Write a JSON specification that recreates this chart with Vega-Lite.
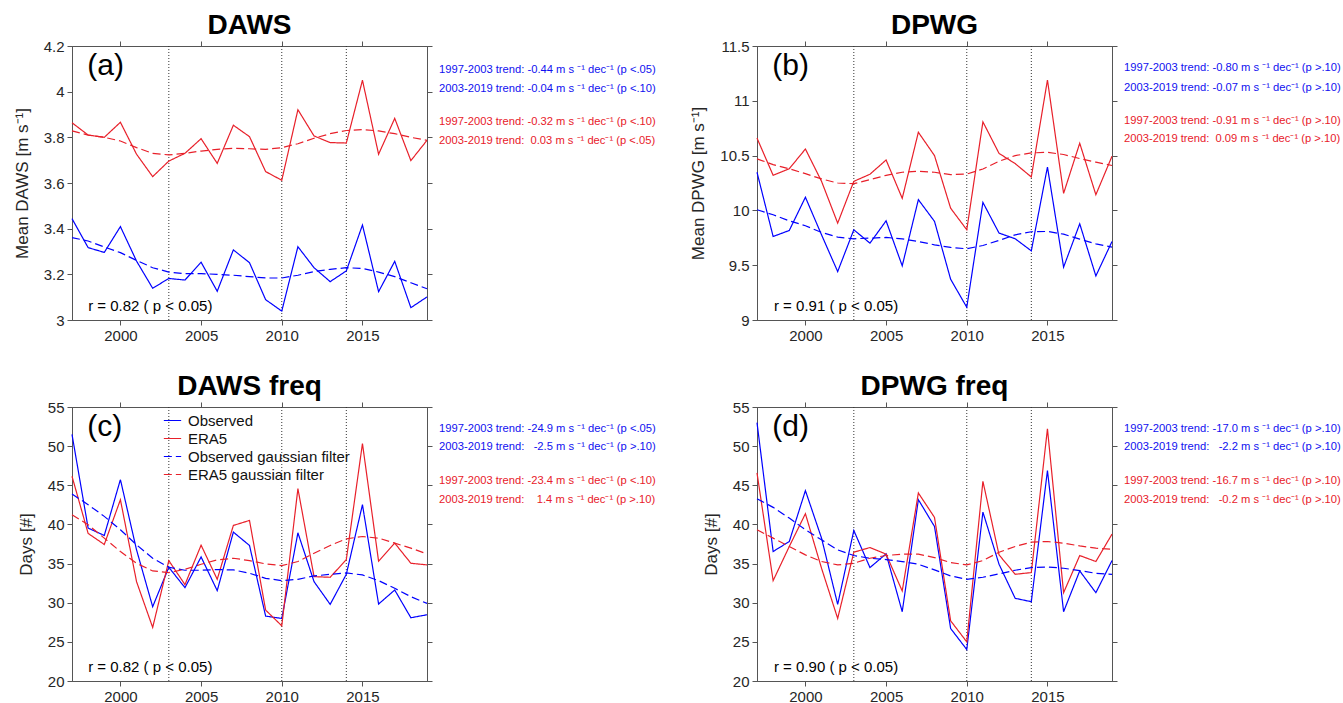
{
"$schema": "https://vega.github.io/schema/vega-lite/v6.json",
"padding": {"left": 12, "top": 11, "right": 0, "bottom": 0},
"background": "white",
"config": {
 "font": "Liberation Sans",
 "view": {"stroke": "#555", "strokeWidth": 1},
 "axis": {"labelFont": "Liberation Sans", "labelFontSize": 15, "labelColor": "#262626", "tickColor": "#555", "domainColor": "#555", "tickSize": 5, "grid": false, "labelPadding": 3, "titleFont": "Liberation Sans", "titleFontSize": 17, "titleFontWeight": "normal", "titleColor": "#262626", "titlePadding": 12},
 "title": {"font": "Liberation Sans", "fontSize": 28, "fontWeight": "bold", "color": "#000", "anchor": "middle"},
 "legend": {"labelFont": "Liberation Sans", "labelFontSize": 15, "labelColor": "#111", "labelLimit": 300}
},
"datasets": {
 "vl": [{"x": 2003}, {"x": 2010}, {"x": 2014}],
 "tags": [
  {"p":"a","k":"L","x":1997.95,"y":4.112,"t":"(a)"},
  {"p":"a","k":"r","x":1998.0,"y":3.061,"t":"r = 0.82 ( p < 0.05)"},
  {"p":"b","k":"L","x":1997.95,"y":11.317,"t":"(b)"},
  {"p":"b","k":"r","x":1998.05,"y":9.128,"t":"r = 0.91 ( p < 0.05)"},
  {"p":"c","k":"L","x":1997.95,"y":52.44,"t":"(c)"},
  {"p":"c","k":"r","x":1998.0,"y":21.79,"t":"r = 0.82 ( p < 0.05)"},
  {"p":"d","k":"L","x":1997.95,"y":52.44,"t":"(d)"},
  {"p":"d","k":"r","x":1998.05,"y":21.79,"t":"r = 0.90 ( p < 0.05)"}
 ],
 "notes": [
  {"p":"a","g":"obs","x":2019.75,"y":4.095,"t":"1997-2003 trend: -0.44 m s ⁻¹ dec⁻¹ (p <.05)"},
  {"p":"a","g":"obs","x":2019.75,"y":4.012,"t":"2003-2019 trend: -0.04 m s ⁻¹ dec⁻¹ (p <.10)"},
  {"p":"a","g":"era","x":2019.75,"y":3.867,"t":"1997-2003 trend: -0.32 m s ⁻¹ dec⁻¹ (p <.10)"},
  {"p":"a","g":"era","x":2019.75,"y":3.784,"t":"2003-2019 trend: \u00a00.03 m s ⁻¹ dec⁻¹ (p <.05)"},
  {"p":"b","g":"obs","x":2019.75,"y":11.297,"t":"1997-2003 trend: -0.80 m s ⁻¹ dec⁻¹ (p >.10)"},
  {"p":"b","g":"obs","x":2019.75,"y":11.12,"t":"2003-2019 trend: -0.07 m s ⁻¹ dec⁻¹ (p >.10)"},
  {"p":"b","g":"era","x":2019.75,"y":10.816,"t":"1997-2003 trend: -0.91 m s ⁻¹ dec⁻¹ (p >.10)"},
  {"p":"b","g":"era","x":2019.75,"y":10.649,"t":"2003-2019 trend: \u00a00.09 m s ⁻¹ dec⁻¹ (p >.10)"},
  {"p":"c","g":"obs","x":2019.75,"y":52.22,"t":"1997-2003 trend: -24.9 m s ⁻¹ dec⁻¹ (p <.05)"},
  {"p":"c","g":"obs","x":2019.75,"y":49.91,"t":"2003-2019 trend: \u00a0\u00a0-2.5 m s ⁻¹ dec⁻¹ (p >.10)"},
  {"p":"c","g":"era","x":2019.75,"y":45.51,"t":"1997-2003 trend: -23.4 m s ⁻¹ dec⁻¹ (p <.10)"},
  {"p":"c","g":"era","x":2019.75,"y":43.17,"t":"2003-2019 trend: \u00a0\u00a0\u00a01.4 m s ⁻¹ dec⁻¹ (p >.10)"},
  {"p":"d","g":"obs","x":2019.75,"y":52.22,"t":"1997-2003 trend: -17.0 m s ⁻¹ dec⁻¹ (p >.10)"},
  {"p":"d","g":"obs","x":2019.75,"y":49.91,"t":"2003-2019 trend: \u00a0\u00a0-2.2 m s ⁻¹ dec⁻¹ (p >.10)"},
  {"p":"d","g":"era","x":2019.75,"y":45.51,"t":"1997-2003 trend: -16.7 m s ⁻¹ dec⁻¹ (p >.10)"},
  {"p":"d","g":"era","x":2019.75,"y":43.17,"t":"2003-2019 trend: \u00a0\u00a0-0.2 m s ⁻¹ dec⁻¹ (p >.10)"}
 ],
 "lines": [
  {"p":"a","s":"Observed","x":1997,"y":3.444},{"p":"a","s":"Observed","x":1998,"y":3.317},{"p":"a","s":"Observed","x":1999,"y":3.296},{"p":"a","s":"Observed","x":2000,"y":3.409},{"p":"a","s":"Observed","x":2001,"y":3.258},{"p":"a","s":"Observed","x":2002,"y":3.139},{"p":"a","s":"Observed","x":2003,"y":3.182},{"p":"a","s":"Observed","x":2004,"y":3.175},{"p":"a","s":"Observed","x":2005,"y":3.253},{"p":"a","s":"Observed","x":2006,"y":3.126},{"p":"a","s":"Observed","x":2007,"y":3.307},{"p":"a","s":"Observed","x":2008,"y":3.251},{"p":"a","s":"Observed","x":2009,"y":3.089},{"p":"a","s":"Observed","x":2010,"y":3.039},{"p":"a","s":"Observed","x":2011,"y":3.321},{"p":"a","s":"Observed","x":2012,"y":3.229},{"p":"a","s":"Observed","x":2013,"y":3.168},{"p":"a","s":"Observed","x":2014,"y":3.215},{"p":"a","s":"Observed","x":2015,"y":3.416},{"p":"a","s":"Observed","x":2016,"y":3.124},{"p":"a","s":"Observed","x":2017,"y":3.257},{"p":"a","s":"Observed","x":2018,"y":3.054},{"p":"a","s":"Observed","x":2019,"y":3.101},
  {"p":"a","s":"ERA5","x":1997,"y":3.864},{"p":"a","s":"ERA5","x":1998,"y":3.81},{"p":"a","s":"ERA5","x":1999,"y":3.80},{"p":"a","s":"ERA5","x":2000,"y":3.866},{"p":"a","s":"ERA5","x":2001,"y":3.726},{"p":"a","s":"ERA5","x":2002,"y":3.628},{"p":"a","s":"ERA5","x":2003,"y":3.696},{"p":"a","s":"ERA5","x":2004,"y":3.73},{"p":"a","s":"ERA5","x":2005,"y":3.794},{"p":"a","s":"ERA5","x":2006,"y":3.686},{"p":"a","s":"ERA5","x":2007,"y":3.853},{"p":"a","s":"ERA5","x":2008,"y":3.803},{"p":"a","s":"ERA5","x":2009,"y":3.65},{"p":"a","s":"ERA5","x":2010,"y":3.612},{"p":"a","s":"ERA5","x":2011,"y":3.921},{"p":"a","s":"ERA5","x":2012,"y":3.806},{"p":"a","s":"ERA5","x":2013,"y":3.777},{"p":"a","s":"ERA5","x":2014,"y":3.775},{"p":"a","s":"ERA5","x":2015,"y":4.05},{"p":"a","s":"ERA5","x":2016,"y":3.726},{"p":"a","s":"ERA5","x":2017,"y":3.883},{"p":"a","s":"ERA5","x":2018,"y":3.698},{"p":"a","s":"ERA5","x":2019,"y":3.787},
  {"p":"a","s":"Observed gaussian filter","x":1997,"y":3.361},{"p":"a","s":"Observed gaussian filter","x":1998,"y":3.346},{"p":"a","s":"Observed gaussian filter","x":1999,"y":3.32},{"p":"a","s":"Observed gaussian filter","x":2000,"y":3.295},{"p":"a","s":"Observed gaussian filter","x":2001,"y":3.261},{"p":"a","s":"Observed gaussian filter","x":2002,"y":3.229},{"p":"a","s":"Observed gaussian filter","x":2003,"y":3.21},{"p":"a","s":"Observed gaussian filter","x":2004,"y":3.203},{"p":"a","s":"Observed gaussian filter","x":2005,"y":3.203},{"p":"a","s":"Observed gaussian filter","x":2006,"y":3.2},{"p":"a","s":"Observed gaussian filter","x":2007,"y":3.196},{"p":"a","s":"Observed gaussian filter","x":2008,"y":3.19},{"p":"a","s":"Observed gaussian filter","x":2009,"y":3.184},{"p":"a","s":"Observed gaussian filter","x":2010,"y":3.184},{"p":"a","s":"Observed gaussian filter","x":2011,"y":3.196},{"p":"a","s":"Observed gaussian filter","x":2012,"y":3.212},{"p":"a","s":"Observed gaussian filter","x":2013,"y":3.222},{"p":"a","s":"Observed gaussian filter","x":2014,"y":3.229},{"p":"a","s":"Observed gaussian filter","x":2015,"y":3.226},{"p":"a","s":"Observed gaussian filter","x":2016,"y":3.21},{"p":"a","s":"Observed gaussian filter","x":2017,"y":3.19},{"p":"a","s":"Observed gaussian filter","x":2018,"y":3.163},{"p":"a","s":"Observed gaussian filter","x":2019,"y":3.137},
  {"p":"a","s":"ERA5 gaussian filter","x":1997,"y":3.828},{"p":"a","s":"ERA5 gaussian filter","x":1998,"y":3.81},{"p":"a","s":"ERA5 gaussian filter","x":1999,"y":3.80},{"p":"a","s":"ERA5 gaussian filter","x":2000,"y":3.784},{"p":"a","s":"ERA5 gaussian filter","x":2001,"y":3.755},{"p":"a","s":"ERA5 gaussian filter","x":2002,"y":3.73},{"p":"a","s":"ERA5 gaussian filter","x":2003,"y":3.723},{"p":"a","s":"ERA5 gaussian filter","x":2004,"y":3.73},{"p":"a","s":"ERA5 gaussian filter","x":2005,"y":3.74},{"p":"a","s":"ERA5 gaussian filter","x":2006,"y":3.747},{"p":"a","s":"ERA5 gaussian filter","x":2007,"y":3.752},{"p":"a","s":"ERA5 gaussian filter","x":2008,"y":3.75},{"p":"a","s":"ERA5 gaussian filter","x":2009,"y":3.747},{"p":"a","s":"ERA5 gaussian filter","x":2010,"y":3.755},{"p":"a","s":"ERA5 gaussian filter","x":2011,"y":3.772},{"p":"a","s":"ERA5 gaussian filter","x":2012,"y":3.796},{"p":"a","s":"ERA5 gaussian filter","x":2013,"y":3.816},{"p":"a","s":"ERA5 gaussian filter","x":2014,"y":3.83},{"p":"a","s":"ERA5 gaussian filter","x":2015,"y":3.834},{"p":"a","s":"ERA5 gaussian filter","x":2016,"y":3.828},{"p":"a","s":"ERA5 gaussian filter","x":2017,"y":3.816},{"p":"a","s":"ERA5 gaussian filter","x":2018,"y":3.80},{"p":"a","s":"ERA5 gaussian filter","x":2019,"y":3.787},
  {"p":"b","s":"Observed","x":1997,"y":10.348},{"p":"b","s":"Observed","x":1998,"y":9.762},{"p":"b","s":"Observed","x":1999,"y":9.817},{"p":"b","s":"Observed","x":2000,"y":10.12},{"p":"b","s":"Observed","x":2001,"y":9.777},{"p":"b","s":"Observed","x":2002,"y":9.442},{"p":"b","s":"Observed","x":2003,"y":9.823},{"p":"b","s":"Observed","x":2004,"y":9.701},{"p":"b","s":"Observed","x":2005,"y":9.905},{"p":"b","s":"Observed","x":2006,"y":9.494},{"p":"b","s":"Observed","x":2007,"y":10.098},{"p":"b","s":"Observed","x":2008,"y":9.9},{"p":"b","s":"Observed","x":2009,"y":9.372},{"p":"b","s":"Observed","x":2010,"y":9.116},{"p":"b","s":"Observed","x":2011,"y":10.073},{"p":"b","s":"Observed","x":2012,"y":9.793},{"p":"b","s":"Observed","x":2013,"y":9.741},{"p":"b","s":"Observed","x":2014,"y":9.631},{"p":"b","s":"Observed","x":2015,"y":10.396},{"p":"b","s":"Observed","x":2016,"y":9.482},{"p":"b","s":"Observed","x":2017,"y":9.878},{"p":"b","s":"Observed","x":2018,"y":9.402},{"p":"b","s":"Observed","x":2019,"y":9.716},
  {"p":"b","s":"ERA5","x":1997,"y":10.66},{"p":"b","s":"ERA5","x":1998,"y":10.32},{"p":"b","s":"ERA5","x":1999,"y":10.38},{"p":"b","s":"ERA5","x":2000,"y":10.56},{"p":"b","s":"ERA5","x":2001,"y":10.265},{"p":"b","s":"ERA5","x":2002,"y":9.884},{"p":"b","s":"ERA5","x":2003,"y":10.265},{"p":"b","s":"ERA5","x":2004,"y":10.33},{"p":"b","s":"ERA5","x":2005,"y":10.46},{"p":"b","s":"ERA5","x":2006,"y":10.11},{"p":"b","s":"ERA5","x":2007,"y":10.713},{"p":"b","s":"ERA5","x":2008,"y":10.5},{"p":"b","s":"ERA5","x":2009,"y":10.02},{"p":"b","s":"ERA5","x":2010,"y":9.823},{"p":"b","s":"ERA5","x":2011,"y":10.808},{"p":"b","s":"ERA5","x":2012,"y":10.52},{"p":"b","s":"ERA5","x":2013,"y":10.427},{"p":"b","s":"ERA5","x":2014,"y":10.305},{"p":"b","s":"ERA5","x":2015,"y":11.19},{"p":"b","s":"ERA5","x":2016,"y":10.155},{"p":"b","s":"ERA5","x":2017,"y":10.613},{"p":"b","s":"ERA5","x":2018,"y":10.143},{"p":"b","s":"ERA5","x":2019,"y":10.494},
  {"p":"b","s":"Observed gaussian filter","x":1997,"y":10.006},{"p":"b","s":"Observed gaussian filter","x":1998,"y":9.96},{"p":"b","s":"Observed gaussian filter","x":1999,"y":9.905},{"p":"b","s":"Observed gaussian filter","x":2000,"y":9.86},{"p":"b","s":"Observed gaussian filter","x":2001,"y":9.799},{"p":"b","s":"Observed gaussian filter","x":2002,"y":9.756},{"p":"b","s":"Observed gaussian filter","x":2003,"y":9.741},{"p":"b","s":"Observed gaussian filter","x":2004,"y":9.747},{"p":"b","s":"Observed gaussian filter","x":2005,"y":9.753},{"p":"b","s":"Observed gaussian filter","x":2006,"y":9.741},{"p":"b","s":"Observed gaussian filter","x":2007,"y":9.716},{"p":"b","s":"Observed gaussian filter","x":2008,"y":9.686},{"p":"b","s":"Observed gaussian filter","x":2009,"y":9.662},{"p":"b","s":"Observed gaussian filter","x":2010,"y":9.65},{"p":"b","s":"Observed gaussian filter","x":2011,"y":9.68},{"p":"b","s":"Observed gaussian filter","x":2012,"y":9.726},{"p":"b","s":"Observed gaussian filter","x":2013,"y":9.777},{"p":"b","s":"Observed gaussian filter","x":2014,"y":9.805},{"p":"b","s":"Observed gaussian filter","x":2015,"y":9.808},{"p":"b","s":"Observed gaussian filter","x":2016,"y":9.783},{"p":"b","s":"Observed gaussian filter","x":2017,"y":9.738},{"p":"b","s":"Observed gaussian filter","x":2018,"y":9.695},{"p":"b","s":"Observed gaussian filter","x":2019,"y":9.665},
  {"p":"b","s":"ERA5 gaussian filter","x":1997,"y":10.47},{"p":"b","s":"ERA5 gaussian filter","x":1998,"y":10.418},{"p":"b","s":"ERA5 gaussian filter","x":1999,"y":10.38},{"p":"b","s":"ERA5 gaussian filter","x":2000,"y":10.335},{"p":"b","s":"ERA5 gaussian filter","x":2001,"y":10.287},{"p":"b","s":"ERA5 gaussian filter","x":2002,"y":10.25},{"p":"b","s":"ERA5 gaussian filter","x":2003,"y":10.244},{"p":"b","s":"ERA5 gaussian filter","x":2004,"y":10.28},{"p":"b","s":"ERA5 gaussian filter","x":2005,"y":10.32},{"p":"b","s":"ERA5 gaussian filter","x":2006,"y":10.348},{"p":"b","s":"ERA5 gaussian filter","x":2007,"y":10.357},{"p":"b","s":"ERA5 gaussian filter","x":2008,"y":10.348},{"p":"b","s":"ERA5 gaussian filter","x":2009,"y":10.326},{"p":"b","s":"ERA5 gaussian filter","x":2010,"y":10.332},{"p":"b","s":"ERA5 gaussian filter","x":2011,"y":10.378},{"p":"b","s":"ERA5 gaussian filter","x":2012,"y":10.448},{"p":"b","s":"ERA5 gaussian filter","x":2013,"y":10.5},{"p":"b","s":"ERA5 gaussian filter","x":2014,"y":10.524},{"p":"b","s":"ERA5 gaussian filter","x":2015,"y":10.53},{"p":"b","s":"ERA5 gaussian filter","x":2016,"y":10.51},{"p":"b","s":"ERA5 gaussian filter","x":2017,"y":10.473},{"p":"b","s":"ERA5 gaussian filter","x":2018,"y":10.44},{"p":"b","s":"ERA5 gaussian filter","x":2019,"y":10.41},
  {"p":"c","s":"Observed","x":1997,"y":51.5},{"p":"c","s":"Observed","x":1998,"y":39.53},{"p":"c","s":"Observed","x":1999,"y":38.59},{"p":"c","s":"Observed","x":2000,"y":45.73},{"p":"c","s":"Observed","x":2001,"y":36.75},{"p":"c","s":"Observed","x":2002,"y":29.49},{"p":"c","s":"Observed","x":2003,"y":34.53},{"p":"c","s":"Observed","x":2004,"y":31.92},{"p":"c","s":"Observed","x":2005,"y":35.85},{"p":"c","s":"Observed","x":2006,"y":31.54},{"p":"c","s":"Observed","x":2007,"y":39.02},{"p":"c","s":"Observed","x":2008,"y":37.31},{"p":"c","s":"Observed","x":2009,"y":28.29},{"p":"c","s":"Observed","x":2010,"y":27.99},{"p":"c","s":"Observed","x":2011,"y":38.93},{"p":"c","s":"Observed","x":2012,"y":32.69},{"p":"c","s":"Observed","x":2013,"y":29.79},{"p":"c","s":"Observed","x":2014,"y":33.63},{"p":"c","s":"Observed","x":2015,"y":42.52},{"p":"c","s":"Observed","x":2016,"y":29.83},{"p":"c","s":"Observed","x":2017,"y":31.62},{"p":"c","s":"Observed","x":2018,"y":28.08},{"p":"c","s":"Observed","x":2019,"y":28.46},
  {"p":"c","s":"ERA5","x":1997,"y":46.15},{"p":"c","s":"ERA5","x":1998,"y":38.85},{"p":"c","s":"ERA5","x":1999,"y":37.44},{"p":"c","s":"ERA5","x":2000,"y":43.16},{"p":"c","s":"ERA5","x":2001,"y":32.69},{"p":"c","s":"ERA5","x":2002,"y":26.84},{"p":"c","s":"ERA5","x":2003,"y":35.38},{"p":"c","s":"ERA5","x":2004,"y":32.31},{"p":"c","s":"ERA5","x":2005,"y":37.35},{"p":"c","s":"ERA5","x":2006,"y":32.99},{"p":"c","s":"ERA5","x":2007,"y":39.87},{"p":"c","s":"ERA5","x":2008,"y":40.51},{"p":"c","s":"ERA5","x":2009,"y":29.06},{"p":"c","s":"ERA5","x":2010,"y":27.05},{"p":"c","s":"ERA5","x":2011,"y":44.57},{"p":"c","s":"ERA5","x":2012,"y":33.33},{"p":"c","s":"ERA5","x":2013,"y":33.25},{"p":"c","s":"ERA5","x":2014,"y":35.51},{"p":"c","s":"ERA5","x":2015,"y":50.34},{"p":"c","s":"ERA5","x":2016,"y":35.3},{"p":"c","s":"ERA5","x":2017,"y":37.61},{"p":"c","s":"ERA5","x":2018,"y":35.04},{"p":"c","s":"ERA5","x":2019,"y":34.83},
  {"p":"c","s":"Observed gaussian filter","x":1997,"y":43.89},{"p":"c","s":"Observed gaussian filter","x":1998,"y":42.52},{"p":"c","s":"Observed gaussian filter","x":1999,"y":41.03},{"p":"c","s":"Observed gaussian filter","x":2000,"y":39.32},{"p":"c","s":"Observed gaussian filter","x":2001,"y":37.39},{"p":"c","s":"Observed gaussian filter","x":2002,"y":35.68},{"p":"c","s":"Observed gaussian filter","x":2003,"y":34.53},{"p":"c","s":"Observed gaussian filter","x":2004,"y":34.15},{"p":"c","s":"Observed gaussian filter","x":2005,"y":34.15},{"p":"c","s":"Observed gaussian filter","x":2006,"y":34.23},{"p":"c","s":"Observed gaussian filter","x":2007,"y":34.19},{"p":"c","s":"Observed gaussian filter","x":2008,"y":33.76},{"p":"c","s":"Observed gaussian filter","x":2009,"y":33.12},{"p":"c","s":"Observed gaussian filter","x":2010,"y":32.82},{"p":"c","s":"Observed gaussian filter","x":2011,"y":32.99},{"p":"c","s":"Observed gaussian filter","x":2012,"y":33.42},{"p":"c","s":"Observed gaussian filter","x":2013,"y":33.63},{"p":"c","s":"Observed gaussian filter","x":2014,"y":33.8},{"p":"c","s":"Observed gaussian filter","x":2015,"y":33.55},{"p":"c","s":"Observed gaussian filter","x":2016,"y":32.82},{"p":"c","s":"Observed gaussian filter","x":2017,"y":31.84},{"p":"c","s":"Observed gaussian filter","x":2018,"y":30.77},{"p":"c","s":"Observed gaussian filter","x":2019,"y":29.91},
  {"p":"c","s":"ERA5 gaussian filter","x":1997,"y":41.24},{"p":"c","s":"ERA5 gaussian filter","x":1998,"y":39.96},{"p":"c","s":"ERA5 gaussian filter","x":1999,"y":38.25},{"p":"c","s":"ERA5 gaussian filter","x":2000,"y":36.54},{"p":"c","s":"ERA5 gaussian filter","x":2001,"y":35.04},{"p":"c","s":"ERA5 gaussian filter","x":2002,"y":34.06},{"p":"c","s":"ERA5 gaussian filter","x":2003,"y":33.85},{"p":"c","s":"ERA5 gaussian filter","x":2004,"y":34.27},{"p":"c","s":"ERA5 gaussian filter","x":2005,"y":34.91},{"p":"c","s":"ERA5 gaussian filter","x":2006,"y":35.47},{"p":"c","s":"ERA5 gaussian filter","x":2007,"y":35.68},{"p":"c","s":"ERA5 gaussian filter","x":2008,"y":35.38},{"p":"c","s":"ERA5 gaussian filter","x":2009,"y":34.96},{"p":"c","s":"ERA5 gaussian filter","x":2010,"y":34.74},{"p":"c","s":"ERA5 gaussian filter","x":2011,"y":35.26},{"p":"c","s":"ERA5 gaussian filter","x":2012,"y":36.32},{"p":"c","s":"ERA5 gaussian filter","x":2013,"y":37.31},{"p":"c","s":"ERA5 gaussian filter","x":2014,"y":38.16},{"p":"c","s":"ERA5 gaussian filter","x":2015,"y":38.46},{"p":"c","s":"ERA5 gaussian filter","x":2016,"y":38.25},{"p":"c","s":"ERA5 gaussian filter","x":2017,"y":37.61},{"p":"c","s":"ERA5 gaussian filter","x":2018,"y":36.97},{"p":"c","s":"ERA5 gaussian filter","x":2019,"y":36.24},
  {"p":"d","s":"Observed","x":1997,"y":53.0},{"p":"d","s":"Observed","x":1998,"y":36.54},{"p":"d","s":"Observed","x":1999,"y":37.82},{"p":"d","s":"Observed","x":2000,"y":44.32},{"p":"d","s":"Observed","x":2001,"y":38.25},{"p":"d","s":"Observed","x":2002,"y":29.79},{"p":"d","s":"Observed","x":2003,"y":39.23},{"p":"d","s":"Observed","x":2004,"y":34.49},{"p":"d","s":"Observed","x":2005,"y":36.24},{"p":"d","s":"Observed","x":2006,"y":28.85},{"p":"d","s":"Observed","x":2007,"y":43.16},{"p":"d","s":"Observed","x":2008,"y":39.74},{"p":"d","s":"Observed","x":2009,"y":26.71},{"p":"d","s":"Observed","x":2010,"y":24.02},{"p":"d","s":"Observed","x":2011,"y":41.58},{"p":"d","s":"Observed","x":2012,"y":34.91},{"p":"d","s":"Observed","x":2013,"y":30.56},{"p":"d","s":"Observed","x":2014,"y":30.13},{"p":"d","s":"Observed","x":2015,"y":46.88},{"p":"d","s":"Observed","x":2016,"y":28.85},{"p":"d","s":"Observed","x":2017,"y":34.06},{"p":"d","s":"Observed","x":2018,"y":31.28},{"p":"d","s":"Observed","x":2019,"y":35.38},
  {"p":"d","s":"ERA5","x":1997,"y":46.58},{"p":"d","s":"ERA5","x":1998,"y":32.82},{"p":"d","s":"ERA5","x":1999,"y":37.18},{"p":"d","s":"ERA5","x":2000,"y":41.37},{"p":"d","s":"ERA5","x":2001,"y":34.4},{"p":"d","s":"ERA5","x":2002,"y":27.99},{"p":"d","s":"ERA5","x":2003,"y":36.45},{"p":"d","s":"ERA5","x":2004,"y":37.05},{"p":"d","s":"ERA5","x":2005,"y":36.2},{"p":"d","s":"ERA5","x":2006,"y":31.5},{"p":"d","s":"ERA5","x":2007,"y":44.02},{"p":"d","s":"ERA5","x":2008,"y":40.9},{"p":"d","s":"ERA5","x":2009,"y":27.69},{"p":"d","s":"ERA5","x":2010,"y":25.0},{"p":"d","s":"ERA5","x":2011,"y":45.51},{"p":"d","s":"ERA5","x":2012,"y":36.11},{"p":"d","s":"ERA5","x":2013,"y":33.63},{"p":"d","s":"ERA5","x":2014,"y":33.85},{"p":"d","s":"ERA5","x":2015,"y":52.22},{"p":"d","s":"ERA5","x":2016,"y":31.28},{"p":"d","s":"ERA5","x":2017,"y":36.03},{"p":"d","s":"ERA5","x":2018,"y":35.26},{"p":"d","s":"ERA5","x":2019,"y":38.76},
  {"p":"d","s":"Observed gaussian filter","x":1997,"y":43.29},{"p":"d","s":"Observed gaussian filter","x":1998,"y":42.18},{"p":"d","s":"Observed gaussian filter","x":1999,"y":40.81},{"p":"d","s":"Observed gaussian filter","x":2000,"y":39.32},{"p":"d","s":"Observed gaussian filter","x":2001,"y":38.03},{"p":"d","s":"Observed gaussian filter","x":2002,"y":36.75},{"p":"d","s":"Observed gaussian filter","x":2003,"y":36.03},{"p":"d","s":"Observed gaussian filter","x":2004,"y":35.68},{"p":"d","s":"Observed gaussian filter","x":2005,"y":35.51},{"p":"d","s":"Observed gaussian filter","x":2006,"y":35.26},{"p":"d","s":"Observed gaussian filter","x":2007,"y":34.91},{"p":"d","s":"Observed gaussian filter","x":2008,"y":34.19},{"p":"d","s":"Observed gaussian filter","x":2009,"y":33.42},{"p":"d","s":"Observed gaussian filter","x":2010,"y":32.99},{"p":"d","s":"Observed gaussian filter","x":2011,"y":33.25},{"p":"d","s":"Observed gaussian filter","x":2012,"y":33.68},{"p":"d","s":"Observed gaussian filter","x":2013,"y":34.15},{"p":"d","s":"Observed gaussian filter","x":2014,"y":34.49},{"p":"d","s":"Observed gaussian filter","x":2015,"y":34.57},{"p":"d","s":"Observed gaussian filter","x":2016,"y":34.4},{"p":"d","s":"Observed gaussian filter","x":2017,"y":34.1},{"p":"d","s":"Observed gaussian filter","x":2018,"y":33.76},{"p":"d","s":"Observed gaussian filter","x":2019,"y":33.63},
  {"p":"d","s":"ERA5 gaussian filter","x":1997,"y":39.32},{"p":"d","s":"ERA5 gaussian filter","x":1998,"y":38.25},{"p":"d","s":"ERA5 gaussian filter","x":1999,"y":37.18},{"p":"d","s":"ERA5 gaussian filter","x":2000,"y":36.11},{"p":"d","s":"ERA5 gaussian filter","x":2001,"y":35.26},{"p":"d","s":"ERA5 gaussian filter","x":2002,"y":34.83},{"p":"d","s":"ERA5 gaussian filter","x":2003,"y":35.04},{"p":"d","s":"ERA5 gaussian filter","x":2004,"y":35.68},{"p":"d","s":"ERA5 gaussian filter","x":2005,"y":36.03},{"p":"d","s":"ERA5 gaussian filter","x":2006,"y":36.2},{"p":"d","s":"ERA5 gaussian filter","x":2007,"y":36.2},{"p":"d","s":"ERA5 gaussian filter","x":2008,"y":35.77},{"p":"d","s":"ERA5 gaussian filter","x":2009,"y":35.13},{"p":"d","s":"ERA5 gaussian filter","x":2010,"y":34.83},{"p":"d","s":"ERA5 gaussian filter","x":2011,"y":35.38},{"p":"d","s":"ERA5 gaussian filter","x":2012,"y":36.45},{"p":"d","s":"ERA5 gaussian filter","x":2013,"y":37.18},{"p":"d","s":"ERA5 gaussian filter","x":2014,"y":37.74},{"p":"d","s":"ERA5 gaussian filter","x":2015,"y":37.82},{"p":"d","s":"ERA5 gaussian filter","x":2016,"y":37.61},{"p":"d","s":"ERA5 gaussian filter","x":2017,"y":37.26},{"p":"d","s":"ERA5 gaussian filter","x":2018,"y":36.97},{"p":"d","s":"ERA5 gaussian filter","x":2019,"y":36.84}
 ]
},
"columns": 2,
"spacing": {"row": 87, "column": 330},
"bounds": "flush",
"resolve": {"scale": {"color": "independent", "strokeDash": "independent"}, "legend": {"color": "independent", "strokeDash": "independent"}},
"concat": [
 {
  "title": {"text": "DAWS", "offset": -1}, "width": 355, "height": 274,
  "resolve": {"axis": {"x": "independent", "y": "independent"}},
  "layer": [
   {"data": {"name": "vl"}, "mark": {"type": "rule", "color": "#333", "strokeWidth": 1, "strokeDash": [1, 2]},
    "encoding": {"x": {"field": "x", "type": "quantitative", "scale": {"domain": [1997, 2019], "nice": false, "zero": false}, "axis": {"orient": "top", "values": [2000, 2005, 2010, 2015], "labels": false, "title": null}}}},
   {"data": {"name": "lines"}, "transform": [{"filter": "datum.p === 'a'"}], "mark": {"type": "line", "strokeWidth": 1.2},
    "encoding": {
     "x": {"field": "x", "type": "quantitative", "scale": {"domain": [1997, 2019], "nice": false, "zero": false}, "axis": {"orient": "bottom", "values": [2000, 2005, 2010, 2015], "format": "d", "title": null}},
     "y": {"field": "y", "type": "quantitative", "scale": {"domain": [3, 4.2], "nice": false, "zero": false}, "axis": {"orient": "left", "values": [3, 3.2, 3.4, 3.6, 3.8, 4, 4.2], "format": "~g", "title": "Mean DAWS [m s⁻¹]"}},
     "color": {"field": "s", "type": "nominal", "scale": {"domain": ["Observed", "ERA5", "Observed gaussian filter", "ERA5 gaussian filter"], "range": ["#0000ff", "#e8202a", "#0000ff", "#e8202a"]}, "legend": null},
     "strokeDash": {"field": "s", "type": "nominal", "scale": {"domain": ["Observed", "ERA5", "Observed gaussian filter", "ERA5 gaussian filter"], "range": [[1, 0], [1, 0], [8, 4], [8, 4]]}, "legend": null}}},
   {"data": {"name": "notes"}, "transform": [{"filter": "datum.p === 'a' && datum.g === 'obs'"}], "mark": {"type": "text", "align": "left", "baseline": "middle", "fontSize": 11.2, "color": "#1010f0"},
    "encoding": {"x": {"field": "x", "type": "quantitative", "scale": {"domain": [1997, 2019], "nice": false, "zero": false}, "axis": null},
     "y": {"field": "y", "type": "quantitative", "scale": {"domain": [3, 4.2], "nice": false, "zero": false}, "axis": {"orient": "right", "values": [3, 3.2, 3.4, 3.6, 3.8, 4, 4.2], "labels": false, "title": null}},
     "text": {"field": "t"}}},
   {"data": {"name": "notes"}, "transform": [{"filter": "datum.p === 'a' && datum.g === 'era'"}], "mark": {"type": "text", "align": "left", "baseline": "middle", "fontSize": 11.2, "color": "#e8202a"},
    "encoding": {"x": {"field": "x", "type": "quantitative", "scale": {"domain": [1997, 2019], "nice": false, "zero": false}, "axis": null},
     "y": {"field": "y", "type": "quantitative", "scale": {"domain": [3, 4.2], "nice": false, "zero": false}, "axis": null},
     "text": {"field": "t"}}},
   {"data": {"name": "tags"}, "transform": [{"filter": "datum.p === 'a' && datum.k === 'L'"}], "mark": {"type": "text", "align": "left", "baseline": "middle", "fontSize": 30, "color": "#000"},
    "encoding": {"x": {"field": "x", "type": "quantitative", "scale": {"domain": [1997, 2019], "nice": false, "zero": false}, "axis": null},
     "y": {"field": "y", "type": "quantitative", "scale": {"domain": [3, 4.2], "nice": false, "zero": false}, "axis": null},
     "text": {"field": "t"}}},
   {"data": {"name": "tags"}, "transform": [{"filter": "datum.p === 'a' && datum.k === 'r'"}], "mark": {"type": "text", "align": "left", "baseline": "middle", "fontSize": 15, "color": "#000"},
    "encoding": {"x": {"field": "x", "type": "quantitative", "scale": {"domain": [1997, 2019], "nice": false, "zero": false}, "axis": null},
     "y": {"field": "y", "type": "quantitative", "scale": {"domain": [3, 4.2], "nice": false, "zero": false}, "axis": null},
     "text": {"field": "t"}}}
  ]
 },
 {
  "title": {"text": "DPWG", "offset": -1}, "width": 355, "height": 274,
  "resolve": {"axis": {"x": "independent", "y": "independent"}},
  "layer": [
   {"data": {"name": "vl"}, "mark": {"type": "rule", "color": "#333", "strokeWidth": 1, "strokeDash": [1, 2]},
    "encoding": {"x": {"field": "x", "type": "quantitative", "scale": {"domain": [1997, 2019], "nice": false, "zero": false}, "axis": {"orient": "top", "values": [2000, 2005, 2010, 2015], "labels": false, "title": null}}}},
   {"data": {"name": "lines"}, "transform": [{"filter": "datum.p === 'b'"}], "mark": {"type": "line", "strokeWidth": 1.2},
    "encoding": {
     "x": {"field": "x", "type": "quantitative", "scale": {"domain": [1997, 2019], "nice": false, "zero": false}, "axis": {"orient": "bottom", "values": [2000, 2005, 2010, 2015], "format": "d", "title": null}},
     "y": {"field": "y", "type": "quantitative", "scale": {"domain": [9, 11.5], "nice": false, "zero": false}, "axis": {"orient": "left", "values": [9, 9.5, 10, 10.5, 11, 11.5], "format": "~g", "title": "Mean DPWG [m s⁻¹]"}},
     "color": {"field": "s", "type": "nominal", "scale": {"domain": ["Observed", "ERA5", "Observed gaussian filter", "ERA5 gaussian filter"], "range": ["#0000ff", "#e8202a", "#0000ff", "#e8202a"]}, "legend": null},
     "strokeDash": {"field": "s", "type": "nominal", "scale": {"domain": ["Observed", "ERA5", "Observed gaussian filter", "ERA5 gaussian filter"], "range": [[1, 0], [1, 0], [8, 4], [8, 4]]}, "legend": null}}},
   {"data": {"name": "notes"}, "transform": [{"filter": "datum.p === 'b' && datum.g === 'obs'"}], "mark": {"type": "text", "align": "left", "baseline": "middle", "fontSize": 11.2, "color": "#1010f0"},
    "encoding": {"x": {"field": "x", "type": "quantitative", "scale": {"domain": [1997, 2019], "nice": false, "zero": false}, "axis": null},
     "y": {"field": "y", "type": "quantitative", "scale": {"domain": [9, 11.5], "nice": false, "zero": false}, "axis": {"orient": "right", "values": [9, 9.5, 10, 10.5, 11, 11.5], "labels": false, "title": null}},
     "text": {"field": "t"}}},
   {"data": {"name": "notes"}, "transform": [{"filter": "datum.p === 'b' && datum.g === 'era'"}], "mark": {"type": "text", "align": "left", "baseline": "middle", "fontSize": 11.2, "color": "#e8202a"},
    "encoding": {"x": {"field": "x", "type": "quantitative", "scale": {"domain": [1997, 2019], "nice": false, "zero": false}, "axis": null},
     "y": {"field": "y", "type": "quantitative", "scale": {"domain": [9, 11.5], "nice": false, "zero": false}, "axis": null},
     "text": {"field": "t"}}},
   {"data": {"name": "tags"}, "transform": [{"filter": "datum.p === 'b' && datum.k === 'L'"}], "mark": {"type": "text", "align": "left", "baseline": "middle", "fontSize": 30, "color": "#000"},
    "encoding": {"x": {"field": "x", "type": "quantitative", "scale": {"domain": [1997, 2019], "nice": false, "zero": false}, "axis": null},
     "y": {"field": "y", "type": "quantitative", "scale": {"domain": [9, 11.5], "nice": false, "zero": false}, "axis": null},
     "text": {"field": "t"}}},
   {"data": {"name": "tags"}, "transform": [{"filter": "datum.p === 'b' && datum.k === 'r'"}], "mark": {"type": "text", "align": "left", "baseline": "middle", "fontSize": 15, "color": "#000"},
    "encoding": {"x": {"field": "x", "type": "quantitative", "scale": {"domain": [1997, 2019], "nice": false, "zero": false}, "axis": null},
     "y": {"field": "y", "type": "quantitative", "scale": {"domain": [9, 11.5], "nice": false, "zero": false}, "axis": null},
     "text": {"field": "t"}}}
  ]
 },
 {
  "title": {"text": "DAWS freq", "offset": -1}, "width": 355, "height": 274,
  "resolve": {"axis": {"x": "independent", "y": "independent"}},
  "layer": [
   {"data": {"name": "vl"}, "mark": {"type": "rule", "color": "#333", "strokeWidth": 1, "strokeDash": [1, 2]},
    "encoding": {"x": {"field": "x", "type": "quantitative", "scale": {"domain": [1997, 2019], "nice": false, "zero": false}, "axis": {"orient": "top", "values": [2000, 2005, 2010, 2015], "labels": false, "title": null}}}},
   {"data": {"name": "lines"}, "transform": [{"filter": "datum.p === 'c'"}], "mark": {"type": "line", "strokeWidth": 1.2},
    "encoding": {
     "x": {"field": "x", "type": "quantitative", "scale": {"domain": [1997, 2019], "nice": false, "zero": false}, "axis": {"orient": "bottom", "values": [2000, 2005, 2010, 2015], "format": "d", "title": null}},
     "y": {"field": "y", "type": "quantitative", "scale": {"domain": [20, 55], "nice": false, "zero": false}, "axis": {"orient": "left", "values": [20, 25, 30, 35, 40, 45, 50, 55], "format": "~g", "title": "Days [#]"}},
     "color": {"field": "s", "type": "nominal", "scale": {"domain": ["Observed", "ERA5", "Observed gaussian filter", "ERA5 gaussian filter"], "range": ["#0000ff", "#e8202a", "#0000ff", "#e8202a"]}, "legend": {"orient": "none", "legendX": 91, "legendY": 4, "direction": "vertical", "title": null, "symbolType": "stroke", "symbolSize": 300, "symbolStrokeWidth": 1.2, "rowPadding": -2, "labelOffset": 6}},
     "strokeDash": {"field": "s", "type": "nominal", "scale": {"domain": ["Observed", "ERA5", "Observed gaussian filter", "ERA5 gaussian filter"], "range": [[1, 0], [1, 0], [8, 4], [8, 4]]}, "legend": {"orient": "none", "legendX": 91, "legendY": 4, "direction": "vertical", "title": null, "symbolType": "stroke", "symbolSize": 300, "symbolStrokeWidth": 1.2, "rowPadding": -2, "labelOffset": 6}}}},
   {"data": {"name": "notes"}, "transform": [{"filter": "datum.p === 'c' && datum.g === 'obs'"}], "mark": {"type": "text", "align": "left", "baseline": "middle", "fontSize": 11.2, "color": "#1010f0"},
    "encoding": {"x": {"field": "x", "type": "quantitative", "scale": {"domain": [1997, 2019], "nice": false, "zero": false}, "axis": null},
     "y": {"field": "y", "type": "quantitative", "scale": {"domain": [20, 55], "nice": false, "zero": false}, "axis": {"orient": "right", "values": [20, 25, 30, 35, 40, 45, 50, 55], "labels": false, "title": null}},
     "text": {"field": "t"}}},
   {"data": {"name": "notes"}, "transform": [{"filter": "datum.p === 'c' && datum.g === 'era'"}], "mark": {"type": "text", "align": "left", "baseline": "middle", "fontSize": 11.2, "color": "#e8202a"},
    "encoding": {"x": {"field": "x", "type": "quantitative", "scale": {"domain": [1997, 2019], "nice": false, "zero": false}, "axis": null},
     "y": {"field": "y", "type": "quantitative", "scale": {"domain": [20, 55], "nice": false, "zero": false}, "axis": null},
     "text": {"field": "t"}}},
   {"data": {"name": "tags"}, "transform": [{"filter": "datum.p === 'c' && datum.k === 'L'"}], "mark": {"type": "text", "align": "left", "baseline": "middle", "fontSize": 30, "color": "#000"},
    "encoding": {"x": {"field": "x", "type": "quantitative", "scale": {"domain": [1997, 2019], "nice": false, "zero": false}, "axis": null},
     "y": {"field": "y", "type": "quantitative", "scale": {"domain": [20, 55], "nice": false, "zero": false}, "axis": null},
     "text": {"field": "t"}}},
   {"data": {"name": "tags"}, "transform": [{"filter": "datum.p === 'c' && datum.k === 'r'"}], "mark": {"type": "text", "align": "left", "baseline": "middle", "fontSize": 15, "color": "#000"},
    "encoding": {"x": {"field": "x", "type": "quantitative", "scale": {"domain": [1997, 2019], "nice": false, "zero": false}, "axis": null},
     "y": {"field": "y", "type": "quantitative", "scale": {"domain": [20, 55], "nice": false, "zero": false}, "axis": null},
     "text": {"field": "t"}}}
  ]
 },
 {
  "title": {"text": "DPWG freq", "offset": -1}, "width": 355, "height": 274,
  "resolve": {"axis": {"x": "independent", "y": "independent"}},
  "layer": [
   {"data": {"name": "vl"}, "mark": {"type": "rule", "color": "#333", "strokeWidth": 1, "strokeDash": [1, 2]},
    "encoding": {"x": {"field": "x", "type": "quantitative", "scale": {"domain": [1997, 2019], "nice": false, "zero": false}, "axis": {"orient": "top", "values": [2000, 2005, 2010, 2015], "labels": false, "title": null}}}},
   {"data": {"name": "lines"}, "transform": [{"filter": "datum.p === 'd'"}], "mark": {"type": "line", "strokeWidth": 1.2},
    "encoding": {
     "x": {"field": "x", "type": "quantitative", "scale": {"domain": [1997, 2019], "nice": false, "zero": false}, "axis": {"orient": "bottom", "values": [2000, 2005, 2010, 2015], "format": "d", "title": null}},
     "y": {"field": "y", "type": "quantitative", "scale": {"domain": [20, 55], "nice": false, "zero": false}, "axis": {"orient": "left", "values": [20, 25, 30, 35, 40, 45, 50, 55], "format": "~g", "title": "Days [#]"}},
     "color": {"field": "s", "type": "nominal", "scale": {"domain": ["Observed", "ERA5", "Observed gaussian filter", "ERA5 gaussian filter"], "range": ["#0000ff", "#e8202a", "#0000ff", "#e8202a"]}, "legend": null},
     "strokeDash": {"field": "s", "type": "nominal", "scale": {"domain": ["Observed", "ERA5", "Observed gaussian filter", "ERA5 gaussian filter"], "range": [[1, 0], [1, 0], [8, 4], [8, 4]]}, "legend": null}}},
   {"data": {"name": "notes"}, "transform": [{"filter": "datum.p === 'd' && datum.g === 'obs'"}], "mark": {"type": "text", "align": "left", "baseline": "middle", "fontSize": 11.2, "color": "#1010f0"},
    "encoding": {"x": {"field": "x", "type": "quantitative", "scale": {"domain": [1997, 2019], "nice": false, "zero": false}, "axis": null},
     "y": {"field": "y", "type": "quantitative", "scale": {"domain": [20, 55], "nice": false, "zero": false}, "axis": {"orient": "right", "values": [20, 25, 30, 35, 40, 45, 50, 55], "labels": false, "title": null}},
     "text": {"field": "t"}}},
   {"data": {"name": "notes"}, "transform": [{"filter": "datum.p === 'd' && datum.g === 'era'"}], "mark": {"type": "text", "align": "left", "baseline": "middle", "fontSize": 11.2, "color": "#e8202a"},
    "encoding": {"x": {"field": "x", "type": "quantitative", "scale": {"domain": [1997, 2019], "nice": false, "zero": false}, "axis": null},
     "y": {"field": "y", "type": "quantitative", "scale": {"domain": [20, 55], "nice": false, "zero": false}, "axis": null},
     "text": {"field": "t"}}},
   {"data": {"name": "tags"}, "transform": [{"filter": "datum.p === 'd' && datum.k === 'L'"}], "mark": {"type": "text", "align": "left", "baseline": "middle", "fontSize": 30, "color": "#000"},
    "encoding": {"x": {"field": "x", "type": "quantitative", "scale": {"domain": [1997, 2019], "nice": false, "zero": false}, "axis": null},
     "y": {"field": "y", "type": "quantitative", "scale": {"domain": [20, 55], "nice": false, "zero": false}, "axis": null},
     "text": {"field": "t"}}},
   {"data": {"name": "tags"}, "transform": [{"filter": "datum.p === 'd' && datum.k === 'r'"}], "mark": {"type": "text", "align": "left", "baseline": "middle", "fontSize": 15, "color": "#000"},
    "encoding": {"x": {"field": "x", "type": "quantitative", "scale": {"domain": [1997, 2019], "nice": false, "zero": false}, "axis": null},
     "y": {"field": "y", "type": "quantitative", "scale": {"domain": [20, 55], "nice": false, "zero": false}, "axis": null},
     "text": {"field": "t"}}}
  ]
 }
]
}
